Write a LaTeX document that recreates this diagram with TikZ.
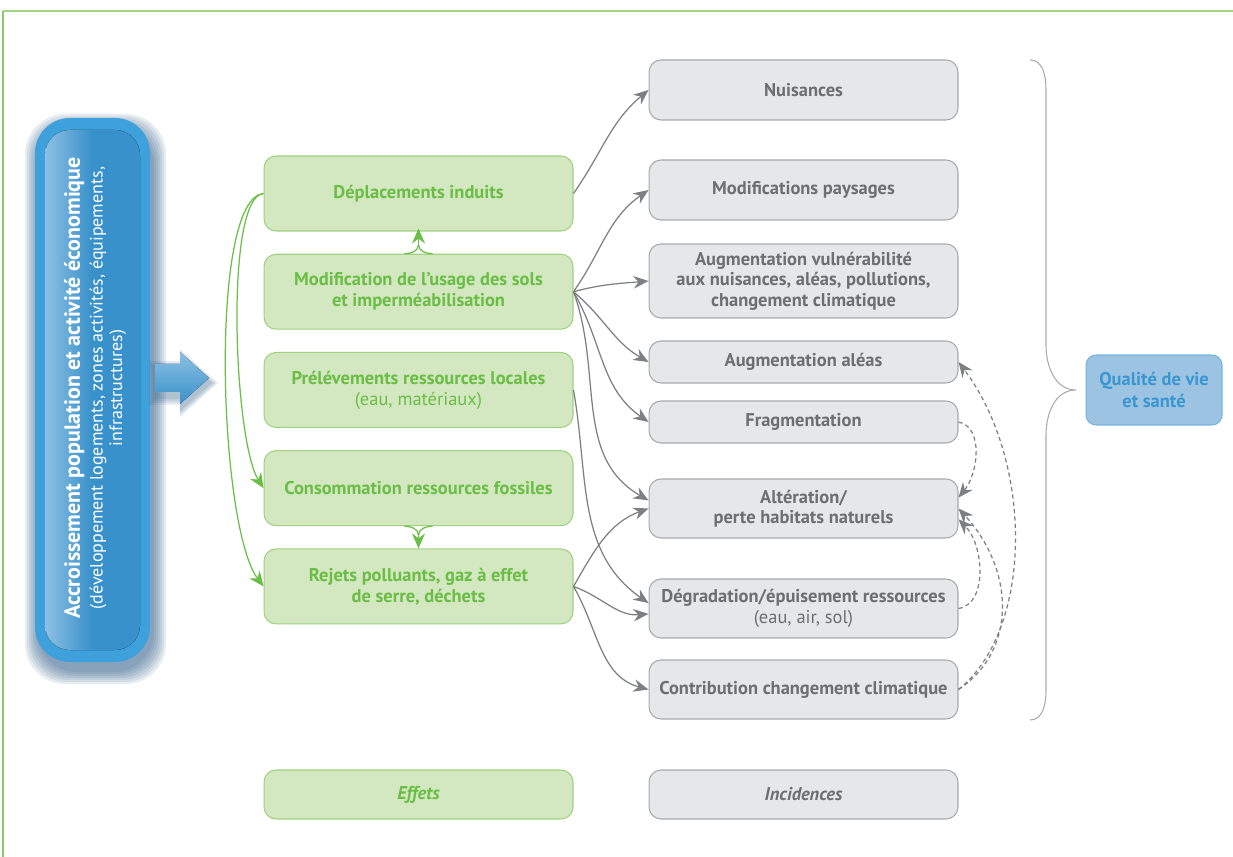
\documentclass[tikz,border=0pt]{standalone}
\usepackage{fontspec}
\setmainfont{PT Sans}
\usepackage{xcolor}
\usetikzlibrary{positioning, arrows.meta, calc}

\definecolor{vertfond}{HTML}{D3E7C0}
\definecolor{vertbord}{HTML}{9FD27F}
\definecolor{verttexte}{HTML}{6ABD45}
\definecolor{vertcadre}{HTML}{A3D683}
\definecolor{grisfond}{HTML}{E6E7E8}
\definecolor{grisbord}{HTML}{A7A9AC}
\definecolor{gristexte}{HTML}{6D6E71}
\definecolor{grisfleche}{HTML}{7D7F82}
\definecolor{bleuclair}{HTML}{8DC0E4}
\definecolor{bleu}{HTML}{3EA1DC}
\definecolor{bleufonce}{HTML}{3891CA}
\definecolor{bleuombre}{HTML}{1D4F7C}
\definecolor{bleuqual}{HTML}{9CC3E2}
\definecolor{bleuqualtexte}{HTML}{3A96D1}

\begin{document}
\begin{tikzpicture}[x=0.02cm, y=-0.02cm, node distance=1.965cm,
	effet/.style={draw=vertbord, fill=vertfond, line width=0.6pt, rounded corners=0.24cm, minimum width=6.18cm, minimum height=1.5cm, text=verttexte, align=center, font=\fontsize{10.5}{12}\selectfont\bfseries},
	incid/.style={draw=grisbord, fill=grisfond, line width=0.6pt, rounded corners=0.24cm, minimum width=6.18cm, text=gristexte, align=center, font=\fontsize{10.5}{11.7}\selectfont\bfseries},
	fleche/.style={grisfleche, line width=0.7pt, -{Stealth[length=0.3cm, width=0.25cm]}},
	pointille/.style={fleche, dash pattern=on 2.4pt off 1.8pt},
	fvert/.style={verttexte, line width=0.7pt, -{Stealth[length=0.3cm, width=0.26cm]}},
	lvert/.style={verttexte, line width=0.7pt}]
		\useasboundingbox (0,0) rectangle (1233,857);
		\draw[vertcadre, line width=1.1pt] (3,11) -- (1233,11);
		\draw[verttexte!80, line width=0.6pt] (3,11) -- (3,857);
		
		\foreach \d in {14,12,...,2}
			\fill[bleuombre, opacity=0.1, rounded corners=0.8cm] (35-\d+4,118-\d+10) rectangle (150+\d+2,662+\d+8);
		\fill[bleu, rounded corners=0.7cm] (35,118) rectangle (150,662);
		\fill[left color=bleuclair, right color=bleufonce, middle color=bleufonce, rounded corners=0.5cm] (45,130) rectangle (140,650);
		\node[rotate=90, text=white, align=center] (pop) at (95,388) {{\fontsize{12.5}{14}\selectfont\bfseries Accroissement population et activité économique}\\[1pt]{\fontsize{10.2}{12.5}\selectfont (développement logements, zones activités, équipements,}\\[-1pt]{\fontsize{10.2}{12.5}\selectfont infrastructures)}};
		
		\foreach \d in {8,6,...,2}
			\fill[bleuombre, opacity=0.1] (155-\d+2,364-\d+5) -- (180,364-\d+5) -- (180,352-\d+5) -- (210+\d,378+5) -- (180,404+\d+5) -- (180,392+\d+5) -- (155-\d+2,392+\d+5) -- cycle;
		\fill[top color=bleuclair, bottom color=bleufonce] (155,364) -- (180,364) -- (180,352) -- (209,378) -- (180,404) -- (180,392) -- (155,392) -- cycle;
		
		\node[effet] (dep) at (418.5,193.5) {Déplacements induits};
		\node[effet, below of = dep] (mod) {Modification de l’usage des sols\\et imperméabilisation};
		\node[effet, below of = mod] (prel) {Prélévements ressources locales\\{\mdseries (eau, matériaux)}};
		\node[effet, below of = prel] (cons) {Consommation ressources fossiles};
		\node[effet, below of = cons] (rej) {Rejets polluants, gaz à effet\\de serre, déchets};
		\node[effet, minimum height=0.98cm, font=\fontsize{10.5}{12}\selectfont\bfseries\itshape] (eff) at (418.5,794.5) {Effets};
		
		\node[incid, minimum height=1.2cm] (nuis) at (803.5,90) {Nuisances};
		\node[incid, minimum height=1.2cm] (pays) at (803.5,190) {Modifications paysages};
		\node[incid, minimum height=1.48cm] (vuln) at (803.5,281) {Augmentation vulnérabilité\\aux nuisances, aléas, pollutions,\\changement climatique};
		\node[incid, minimum height=0.84cm] (aleas) at (803.5,362) {Augmentation aléas};
		\node[incid, minimum height=0.84cm] (frag) at (803.5,422) {Fragmentation};
		\node[incid, minimum height=1.18cm] (alter) at (803.5,508.5) {Altération/\\perte habitats naturels};
		\node[incid, minimum height=1.18cm] (degr) at (803.5,608.5) {Dégradation/épuisement ressources\\{\mdseries (eau, air, sol)}};
		\node[incid, minimum height=1.18cm] (contrib) at (803.5,689.5) {Contribution changement climatique};
		\node[incid, minimum height=0.98cm, font=\fontsize{10.5}{12}\selectfont\bfseries\itshape] (incid) at (803.5,794.5) {Incidences};
		
		\node[draw=bleuqualtexte!70, fill=bleuqual, line width=0.6pt, rounded corners=0.2cm, minimum width=2.72cm, minimum height=1.4cm, text=bleuqualtexte, align=center, font=\fontsize{10.5}{12}\selectfont\bfseries] (qual) at (1154,390) {Qualité de vie\\et santé};
		\draw[grisbord, line width=0.6pt] (1030,60) to[out=0,in=90] (1046,90) -- (1046,345) to[out=-90,in=180] (1076,390) to[out=180,in=90] (1046,435) -- (1046,690) to[out=-90,in=0] (1030,720);
		
		\draw[lvert] ($(mod.north)+(-14,0)$) to[out=0,in=-90] ($(mod.north)+(0,-9)$) coordinate (jh);
		\draw[lvert] ($(mod.north)+(14,0)$) to[out=180,in=-90] (jh);
		\draw[fvert] (jh) -- ($(dep.south)+(0,-3)$);
		\draw[lvert] ($(cons.south)+(-14,0)$) to[out=0,in=90] ($(cons.south)+(0,9)$) coordinate (jb);
		\draw[lvert] ($(cons.south)+(14,0)$) to[out=180,in=90] (jb);
		\draw[fvert] (jb) -- (rej.north);
		\draw[fvert] (dep.west) .. controls +(-39,3) and +(-30,-48) .. (cons.west);
		\draw[fvert] (dep.west) .. controls +(-55,5) and +(-45,-60) .. (rej.west);
		
		\draw[fleche] (dep.east) to[out=55,in=220] (nuis.west);
		\draw[fleche] (mod.east) to[out=55,in=215] (pays.west);
		\draw[fleche] (mod.east) to[out=15,in=185] (vuln.west);
		\draw[fleche] (mod.east) to[out=-40,in=150] (aleas.west);
		\draw[fleche] (mod.east) to[out=-60,in=145] (frag.west);
		\draw[fleche] (mod.east) to[out=-70,in=150] (alter.177);
		\draw[fleche] (prel.east) to[out=-80,in=145] (degr.178);
		\draw[fleche] (rej.east) to[out=60,in=200] (alter.west);
		\draw[fleche] (rej.east) to[out=-20,in=185] (degr.182);
		\draw[fleche] (rej.east) to[out=-60,in=165] (contrib.west);
		
		\draw[pointille] (frag.east) .. controls +(25,5) and +(20,-25) .. (alter.4);
		\draw[pointille] (degr.east) .. controls +(30,-5) and +(25,25) .. (alter.-4);
		\draw[pointille] (contrib.east) .. controls +(60,-40) and +(55,60) .. (alter.east);
		\draw[pointille] (contrib.east) .. controls +(75,-60) and +(75,100) .. (aleas.east);
\end{tikzpicture}
\end{document}
